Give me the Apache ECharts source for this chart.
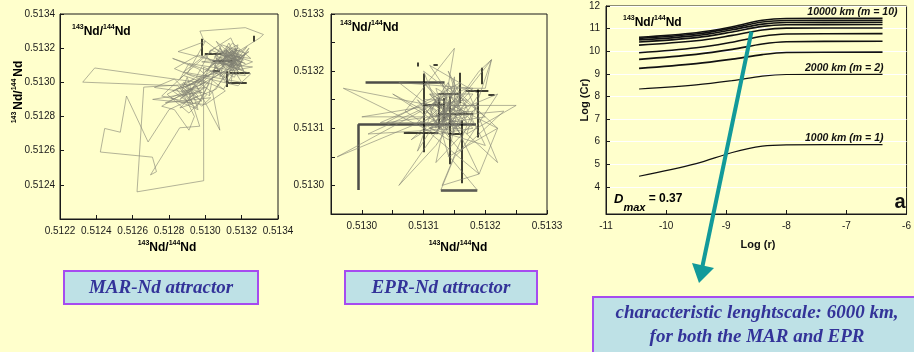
<!DOCTYPE html>
<html>
<head>
<meta charset="utf-8">
<script src="https://cdn.jsdelivr.net/npm/echarts@6/dist/echarts.min.js"></script>
<style>
  html, body { margin: 0; padding: 0; background: #FFFFCC; }
  #chart { width: 914px; height: 352px; }
</style>
</head>
<body>
<div id="chart"></div>
<script>
// ---- MAR-Nd attractor: successive (Nd_i, Nd_i+1) isotope pairs ----
const marPath = [
  [0.51310,0.51312],[0.51318,0.51320],[0.51305,0.51309],[0.51316,0.51303],[0.51322,0.51317],
  [0.51309,0.51322],[0.51297,0.51298],[0.51312,0.51316],[0.51319,0.51308],[0.51302,0.51318],
  [0.51314,0.51326],[0.51320,0.51312],[0.51308,0.51305],[0.51293,0.51296],[0.51286,0.51290],
  [0.51298,0.51301],[0.51282,0.51295],[0.51295,0.51285],[0.51302,0.51299],[0.51288,0.51304],
  [0.51276,0.51292],[0.51292,0.51288],[0.51285,0.51298],[0.512848,0.512978],[0.512325,0.513001],
  [0.512391,0.513084],[0.51296,0.51300],[0.51312,0.51311],[0.51323,0.51321],[0.51315,0.51310],
  [0.51285,0.51318],[0.51300,0.51324],[0.51290,0.51305],[0.51318,0.51298],[0.51325,0.51305],
  [0.51296,0.51316],[0.51283,0.51308],[0.51310,0.51296],[0.51324,0.51320],[0.51302,0.51292],
  [0.51307,0.51318],[0.51317,0.51315],[0.51311,0.51300],[0.51304,0.51313],[0.51321,0.51307],
  [0.51315,0.51317],[0.51309,0.51310],[0.51320,0.51314],[0.51313,0.51320],[0.51317,0.51311],
  [0.51311,0.51317],[0.51319,0.51319],[0.51314,0.51309],[0.51306,0.51314],[0.51316,0.51316],
  [0.51313,0.51319],[0.51300,0.51306],[0.51315,0.51323],[0.51325,0.51314],[0.51310,0.51316],
  [0.51299,0.51325],[0.51297,0.51330],[0.51322,0.51332],[0.51332,0.51328],[0.51330,0.51326],
  [0.51318,0.51318],[0.51306,0.51296],[0.51292,0.51290],[0.51280,0.51284],[0.512685,0.512651],
  [0.512566,0.51292],[0.512532,0.512708],[0.512446,0.51273],[0.512422,0.512592],[0.512709,0.512562],
  [0.512731,0.512477],[0.512698,0.512458],[0.512859,0.512734],[0.512969,0.512743],[0.51291,0.51294],
  [0.51272,0.51297],[0.51283,0.51302],[0.51298,0.51286],[0.51303,0.51291],[0.51278,0.51288],
  [0.51292,0.51295],[0.51288,0.51300],[0.51296,0.51292],[0.51290,0.51289],[0.51284,0.51296],
  [0.51294,0.51299],[0.51298,0.51294],[0.51289,0.51293],[0.51293,0.51288],[0.51286,0.51298],
  [0.51298,0.51289],[0.51287,0.51299],[0.51294,0.51302],[0.51279,0.51293],[0.51291,0.51282],
  [0.51301,0.51293],[0.51289,0.51297],[0.51313,0.51313],[0.51319,0.51305],[0.51308,0.51320],
  [0.51312,0.51312],[0.51318,0.51310],[0.51310,0.51319],[0.51321,0.51313],[0.51315,0.51307],
  [0.51291,0.51311],[0.51286,0.51302],[0.51305,0.51320],[0.51314,0.51315],[0.51319,0.51312],
  [0.51306,0.51324],[0.51320,0.51300],[0.51288,0.51306],[0.51300,0.51316],[0.51314,0.51299],
  [0.51316,0.51312],[0.51324,0.51318],[0.51311,0.51308],[0.51305,0.51315],[0.51318,0.51322],
  [0.51312,0.51302],[0.51299,0.51309],[0.512991,0.512424],[0.512624,0.512359],[0.512661,0.512972],
  [0.51294,0.51299],[0.51303,0.51310],[0.51314,0.51316],[0.51320,0.51310],[0.51309,0.51313],
  [0.51316,0.51320],[0.51322,0.51304],[0.51304,0.51306],[0.51282,0.51314],[0.51296,0.51308],
  [0.51311,0.51295],[0.51300,0.51287],[0.51271,0.51290],[0.51288,0.51293],[0.51294,0.51280],
  [0.51291,0.51272],[0.51283,0.51284],[0.51276,0.51286],[0.51295,0.51298],[0.51308,0.51272],
  [0.51304,0.51294],[0.51295,0.51301],[0.51291,0.51291],[0.51300,0.51297],[0.51287,0.51295],
  [0.51290,0.51303],[0.51296,0.51284],[0.51281,0.51291],[0.51300,0.51300],[0.51286,0.51285],
  [0.51297,0.51289],[0.51303,0.51302],[0.51310,0.51306],[0.51316,0.51313],[0.51312,0.51318],
  [0.51320,0.51316],[0.51308,0.51311],[0.51314,0.51313],[0.51317,0.51320],[0.51311,0.51315],
  [0.51303,0.51319],[0.51295,0.51303],[0.51326,0.51309],[0.51298,0.51312],[0.51315,0.51314],
  [0.51322,0.51311],[0.51309,0.51316],[0.51315,0.51314],[0.51313,0.51308],[0.51318,0.51315],
  [0.51312,0.51321],[0.51310,0.51309],[0.51317,0.51314],[0.51313,0.51323],[0.51306,0.51311],
  [0.51321,0.51316],[0.51314,0.51307],[0.51326,0.51312],[0.51309,0.51318],[0.51315,0.51311],
  [0.51290,0.51298],[0.51301,0.51304],[0.51287,0.51292],[0.51297,0.51295],[0.51317,0.51318],
  [0.51311,0.51314],[0.51319,0.51309],[0.51312,0.51319],[0.51308,0.51303],[0.51318,0.51313]
];
// MAR error bars [x1, y1, x2, y2]
const marBars = [
  [0.51298,0.513255,0.51298,0.513155],
  [0.512997,0.513167,0.51309,0.513167],
  [0.513041,0.513127,0.513151,0.513127],
  [0.513116,0.513066,0.513116,0.512972],
  [0.513123,0.5130,0.513228,0.5130],
  [0.513041,0.513068,0.51308,0.513068],
  [0.513266,0.513273,0.513266,0.513238],
  [0.513134,0.513056,0.513244,0.513056]
];

// ---- EPR-Nd attractor ----
const eprPath = [
  [0.51314,0.51313],[0.51310,0.51318],[0.51318,0.51310],[0.51312,0.51309],[0.51297,0.51317],
  [0.51316,0.51313],[0.51311,0.51321],[0.51319,0.51316],[0.51314,0.51308],[0.51307,0.51313],
  [0.51315,0.51324],[0.51313,0.51311],[0.51321,0.51322],[0.51317,0.51309],[0.51325,0.51314],
  [0.51314,0.51314],[0.51312,0.51311],[0.51316,0.51312],[0.51313,0.51316],[0.51311,0.51313],
  [0.51315,0.51310],[0.51317,0.51314],[0.51312,0.51317],[0.51314,0.51310],[0.51310,0.51315],
  [0.51312,0.51315],[0.51309,0.51306],[0.51316,0.51318],[0.51304,0.51311],[0.51318,0.51313],
  [0.51313,0.51300],[0.51319,0.51302],[0.51315,0.51311],[0.51311,0.51316],[0.51322,0.51310],
  [0.51316,0.51316],[0.51313,0.51312],[0.51315,0.51315],[0.51311,0.51310],[0.51317,0.51311],
  [0.51314,0.51318],[0.51310,0.51312],[0.51300,0.51312],[0.51317,0.51315],[0.51312,0.51307],
  [0.51306,0.51300],[0.51315,0.51314],[0.51319,0.51320],[0.51321,0.51322],[0.51320,0.51317],
  [0.51314,0.51317],[0.51312,0.51314],[0.51316,0.51309],[0.51313,0.51314],[0.51310,0.51311],
  [0.51313,0.51310],[0.51309,0.51315],[0.51316,0.51306],[0.51322,0.51316],[0.51311,0.51311],
  [0.51303,0.51311],[0.51314,0.51316],[0.51318,0.51311],[0.51312,0.51304],[0.51315,0.51319],
  [0.51315,0.51313],[0.51313,0.51309],[0.51318,0.51316],[0.51311,0.51316],[0.51314,0.51312],
  [0.51308,0.51308],[0.51313,0.51313],[0.51322,0.51304],[0.51317,0.51317],[0.51301,0.51309],
  [0.51316,0.51310],[0.51311,0.51314],[0.51319,0.51314],[0.51314,0.51309],[0.51310,0.51320],
  [0.51316,0.51315],[0.51312,0.51309],[0.51315,0.51317],[0.51313,0.51311],[0.51317,0.51313],
  [0.51313,0.51312],[0.51323,0.51313],[0.51315,0.51305],[0.513128,0.512992],[0.513187,0.512992],
  [0.51314,0.513053],[0.51312,0.51313],[0.51306,0.51318],[0.51318,0.51317],[0.51312,0.51310],
  [0.51311,0.51314],[0.51314,0.51316],[0.51312,0.51312],[0.51316,0.51311],[0.51313,0.51315],
  [0.51296,0.51305],[0.51316,0.51314],[0.51314,0.51320],[0.51320,0.51307],[0.51311,0.51310],
  [0.51317,0.51312],[0.51313,0.51316],[0.51309,0.51311],[0.51319,0.51302],[0.51322,0.51310],
  [0.51314,0.51305],[0.51316,0.51316],[0.51312,0.51312],[0.51305,0.51316],[0.51315,0.51309],
  [0.51313,0.51318],[0.51320,0.51312],[0.51314,0.51311]
];
// EPR heavy guide segments [x1, y1, x2, y2]
const eprHeavy = [
  [0.513006,0.513181,0.513134,0.513181],
  [0.512994,0.512992,0.512994,0.513107],
  [0.512994,0.513107,0.513185,0.513107],
  [0.513128,0.512992,0.513187,0.512992]
];
// EPR error bars [x1, y1, x2, y2]
const eprBars = [
  [0.513101,0.513058,0.513101,0.513196],
  [0.513068,0.513092,0.513124,0.513092],
  [0.513142,0.513037,0.513142,0.513156],
  [0.513162,0.513004,0.513162,0.513114],
  [0.513188,0.513084,0.513188,0.513168],
  [0.513168,0.513165,0.513205,0.513165],
  [0.513195,0.513177,0.513195,0.513206],
  [0.513124,0.513126,0.51318,0.513126],
  [0.513102,0.513141,0.513132,0.513141],
  [0.513124,0.513099,0.513124,0.513153],
  [0.513159,0.513144,0.513159,0.513197],
  [0.513124,0.51316,0.513157,0.51316],
  [0.513132,0.513114,0.513132,0.513153],
  [0.51314,0.51309,0.513163,0.51309],
  [0.513116,0.513212,0.513123,0.513212],
  [0.51309,0.513215,0.51309,0.513208],
  [0.513205,0.513158,0.513215,0.513158]
];

// ---- Correlation integral curves, Log(Cr) vs Log(r), embedding m = 1..10 ----
const logR = [-10.45, -9.5, -8.9, -8.4, -8.0, -6.4];
const logCrM1  = [4.47, 5.03, 5.52, 5.80, 5.86, 5.87];
const logCrM2  = [8.33, 8.51, 8.70, 8.90, 8.97, 8.98];
const logCrM3  = [9.24, 9.45, 9.65, 9.85, 9.94, 9.96];
const logCrM4  = [9.64, 9.86, 10.08, 10.32, 10.42, 10.44];
const logCrM5  = [9.93, 10.15, 10.40, 10.66, 10.76, 10.78];
const logCrM6  = [10.27, 10.46, 10.70, 10.94, 11.02, 11.03];
const logCrM7  = [10.41, 10.60, 10.85, 11.10, 11.17, 11.18];
const logCrM8  = [10.50, 10.69, 10.95, 11.20, 11.27, 11.28];
const logCrM9  = [10.57, 10.76, 11.02, 11.29, 11.36, 11.37];
const logCrM10 = [10.62, 10.82, 11.08, 11.37, 11.45, 11.46];
const curveLabels = { 0: '1000 km (m = 1)', 1: '2000 km (m = 2)', 9: '10000 km (m = 10)' };
const logCrTicks = [4, 5, 6, 7, 8, 9, 10, 11, 12];
const eprTicks = [0.51300, 0.51305, 0.51310, 0.51315, 0.51320, 0.51325, 0.51330];
const eprLabels = [0.5130, 0.5131, 0.5132, 0.5133];
const dMax = 0.37;

const SANS = '"Liberation Sans", Arial, sans-serif';
const SERIF = '"Liberation Serif", "Times New Roman", serif';
const INK = '#111';
const TICK_INK = '#1a1a1a';

const ndRich = {
  s: { fontSize: 7, fontWeight: 'bold', fontFamily: SANS, color: INK, verticalAlign: 'top', lineHeight: 14 },
  n: { fontSize: 12, fontWeight: 'bold', fontFamily: SANS, color: INK, verticalAlign: 'bottom', lineHeight: 14 }
};
const ndText = '{s|143}{n|Nd/}{s|144}{n|Nd}';
const ndTextSpaced = '{s|143 }{n|Nd/}{s|144 }{n|Nd}';

const labelBase = { color: TICK_INK, fontSize: 10, fontFamily: SANS };
function frameAxis(extra) {
  return Object.assign({
    type: 'value',
    axisLine: { show: true, lineStyle: { color: TICK_INK, width: 1 } },
    axisTick: { show: true, inside: true, length: 4, lineStyle: { color: TICK_INK } },
    axisLabel: Object.assign({ margin: 7 }, labelBase),
    splitLine: { show: false }
  }, extra);
}
const fmt4 = v => v.toFixed(4);

const toSegs = arr => arr.map(s => ({ coords: [[s[0], s[1]], [s[2], s[3]]] }));

const curveSets = [logCrM1, logCrM2, logCrM3, logCrM4, logCrM5, logCrM6, logCrM7, logCrM8, logCrM9, logCrM10];
const lastIdx = logR.length - 1;
const curveSeries = curveSets.map((ys, k) => {
  const s = {
    type: 'line',
    xAxisIndex: 2, yAxisIndex: 2,
    smooth: 0.35,
    showSymbol: false,
    silent: true,
    lineStyle: { color: INK, width: k < 2 ? 1.2 : 1.6 },
    data: logR.map((x, i) => [x, ys[i]])
  };
  if (curveLabels[k]) {
    s.markPoint = {
      silent: true,
      symbol: 'circle', symbolSize: 1,
      itemStyle: { color: 'rgba(0,0,0,0)' },
      data: [{
        coord: [logR[lastIdx], ys[lastIdx]],
        label: {
          show: true, formatter: curveLabels[k], position: 'top', align: 'right',
          distance: 0, offset: [k === 9 ? 15 : 1, 0],
          fontSize: 10.5, fontStyle: 'italic', fontWeight: 'bold', fontFamily: SANS, color: INK
        }
      }]
    };
  }
  return s;
});

const chart = echarts.init(document.getElementById('chart'), null, { renderer: 'canvas' });
chart.setOption({
  animation: false,
  backgroundColor: '#FFFFCC',
  grid: [
    { left: 60, top: 14, width: 218, height: 205, show: true, borderColor: TICK_INK, borderWidth: 1, backgroundColor: 'transparent' },
    { left: 331, top: 14, width: 216, height: 200, show: true, borderColor: TICK_INK, borderWidth: 1, backgroundColor: 'transparent' },
    { left: 606, top: 6, width: 303, height: 208, show: true, borderColor: TICK_INK, borderWidth: 1, backgroundColor: 'transparent' }
  ],
  xAxis: [
    frameAxis({ gridIndex: 0, min: 0.5122, max: 0.5134, interval: 0.0002,
      axisLabel: Object.assign({ margin: 7, formatter: fmt4 }, labelBase) }),
    frameAxis({ gridIndex: 1, min: 0.51295, max: 0.5133,
      axisTick: { show: true, inside: true, length: 4, lineStyle: { color: TICK_INK }, customValues: eprTicks },
      axisLabel: Object.assign({ margin: 7, formatter: fmt4, customValues: eprLabels }, labelBase) }),
    frameAxis({ gridIndex: 2, min: -11, max: -6, interval: 1 })
  ],
  yAxis: [
    frameAxis({ gridIndex: 0, min: 0.5122, max: 0.5134, interval: 0.0002,
      axisLabel: Object.assign({ margin: 5, formatter: fmt4, showMinLabel: false }, labelBase) }),
    frameAxis({ gridIndex: 1, min: 0.51295, max: 0.5133,
      axisTick: { show: true, inside: true, length: 4, lineStyle: { color: TICK_INK }, customValues: eprTicks },
      axisLabel: Object.assign({ margin: 7, formatter: fmt4, customValues: eprLabels }, labelBase) }),
    frameAxis({ gridIndex: 2, min: 2.8, max: 12,
      axisTick: { show: true, inside: true, length: 4, lineStyle: { color: TICK_INK }, customValues: logCrTicks },
      axisLabel: Object.assign({ margin: 6, customValues: logCrTicks }, labelBase),
      splitLine: { show: true, lineStyle: { color: '#ffffff', width: 1 } } })
  ],
  series: [
    { type: 'line', xAxisIndex: 0, yAxisIndex: 0, data: marPath, showSymbol: false, silent: true,
      lineStyle: { color: '#808072', width: 0.6 } },
    { type: 'lines', coordinateSystem: 'cartesian2d', xAxisIndex: 0, yAxisIndex: 0, silent: true,
      data: toSegs(marBars), lineStyle: { color: '#000', width: 1.5, opacity: 1 } },
    { type: 'line', xAxisIndex: 1, yAxisIndex: 1, data: eprPath, showSymbol: false, silent: true,
      lineStyle: { color: '#808072', width: 0.6 } },
    { type: 'lines', coordinateSystem: 'cartesian2d', xAxisIndex: 1, yAxisIndex: 1, silent: true,
      data: toSegs(eprHeavy), lineStyle: { color: '#4d4d48', width: 2.5, opacity: 1 } },
    { type: 'lines', coordinateSystem: 'cartesian2d', xAxisIndex: 1, yAxisIndex: 1, silent: true,
      data: toSegs(eprBars), lineStyle: { color: '#000', width: 1.5, opacity: 1 } }
  ].concat(curveSeries),
  graphic: [
    // in-panel isotope labels
    { type: 'text', x: 72, y: 31, z: 10, style: { text: ndText, rich: ndRich, align: 'left', verticalAlign: 'middle' } },
    { type: 'text', x: 340, y: 27, z: 10, style: { text: ndText, rich: ndRich, align: 'left', verticalAlign: 'middle' } },
    { type: 'text', x: 623, y: 22, z: 10, style: { text: ndText, rich: ndRich, align: 'left', verticalAlign: 'middle' } },
    // axis titles
    { type: 'text', x: 167, y: 247, z: 10, style: { text: ndText, rich: ndRich, align: 'center', verticalAlign: 'middle' } },
    { type: 'text', x: 18, y: 92, rotation: Math.PI / 2, z: 10, style: { text: ndTextSpaced, rich: ndRich, align: 'center', verticalAlign: 'middle' } },
    { type: 'text', x: 458, y: 247, z: 10, style: { text: ndText, rich: ndRich, align: 'center', verticalAlign: 'middle' } },
    { type: 'text', x: 758, y: 245, z: 10, style: { text: 'Log (r)', font: 'bold 11px ' + SANS, fill: INK, align: 'center', verticalAlign: 'middle' } },
    { type: 'text', x: 585, y: 100, rotation: Math.PI / 2, z: 10, style: { text: 'Log (Cr)', font: 'bold 11px ' + SANS, fill: INK, align: 'center', verticalAlign: 'middle' } },
    // D_max and panel letter
    { type: 'text', x: 614, y: 203, z: 10, style: {
        text: '{d|D}{m|max}{e| = ' + dMax.toFixed(2) + '}', align: 'left', verticalAlign: 'middle',
        rich: {
          d: { fontSize: 13, fontStyle: 'italic', fontWeight: 'bold', fontFamily: SANS, color: INK, verticalAlign: 'top', lineHeight: 20 },
          m: { fontSize: 11, fontStyle: 'italic', fontWeight: 'bold', fontFamily: SANS, color: INK, verticalAlign: 'bottom', lineHeight: 20 },
          e: { fontSize: 12, fontWeight: 'bold', fontFamily: SANS, color: INK, verticalAlign: 'top', lineHeight: 20 }
        } } },
    { type: 'text', x: 900, y: 202, z: 10, style: { text: 'a', font: 'bold 20px ' + SANS, fill: INK, align: 'center', verticalAlign: 'middle' } },
    // pointer from the plateau onset to the conclusion box
    { type: 'line', z: 20, shape: { x1: 751.5, y1: 31.5, x2: 702.5, y2: 266 }, style: { stroke: '#129a9a', lineWidth: 4 } },
    { type: 'polygon', z: 20, shape: { points: [[692, 263], [714, 268], [699, 283]] }, style: { fill: '#129a9a' } },
    // caption boxes
    { type: 'rect', z: 5, shape: { x: 64, y: 271, width: 194, height: 33 }, style: { fill: '#BEE1E6', stroke: '#A64BF0', lineWidth: 2 } },
    { type: 'text', z: 6, x: 161, y: 288, style: { text: 'MAR-Nd attractor', font: 'italic bold 19px ' + SERIF, fill: '#333399', align: 'center', verticalAlign: 'middle' } },
    { type: 'rect', z: 5, shape: { x: 345, y: 271, width: 192, height: 33 }, style: { fill: '#BEE1E6', stroke: '#A64BF0', lineWidth: 2 } },
    { type: 'text', z: 6, x: 441, y: 288, style: { text: 'EPR-Nd attractor', font: 'italic bold 19px ' + SERIF, fill: '#333399', align: 'center', verticalAlign: 'middle' } },
    { type: 'rect', z: 5, shape: { x: 593, y: 297, width: 340, height: 70 }, style: { fill: '#BEE1E6', stroke: '#A64BF0', lineWidth: 2 } },
    { type: 'text', z: 6, x: 757, y: 313, style: { text: 'characteristic lenghtscale: 6000 km,', font: 'italic bold 19px ' + SERIF, fill: '#333399', align: 'center', verticalAlign: 'middle' } },
    { type: 'text', z: 6, x: 757, y: 337, style: { text: 'for both the MAR and EPR', font: 'italic bold 19px ' + SERIF, fill: '#333399', align: 'center', verticalAlign: 'middle' } }
  ]
});
</script>
</body>
</html>
